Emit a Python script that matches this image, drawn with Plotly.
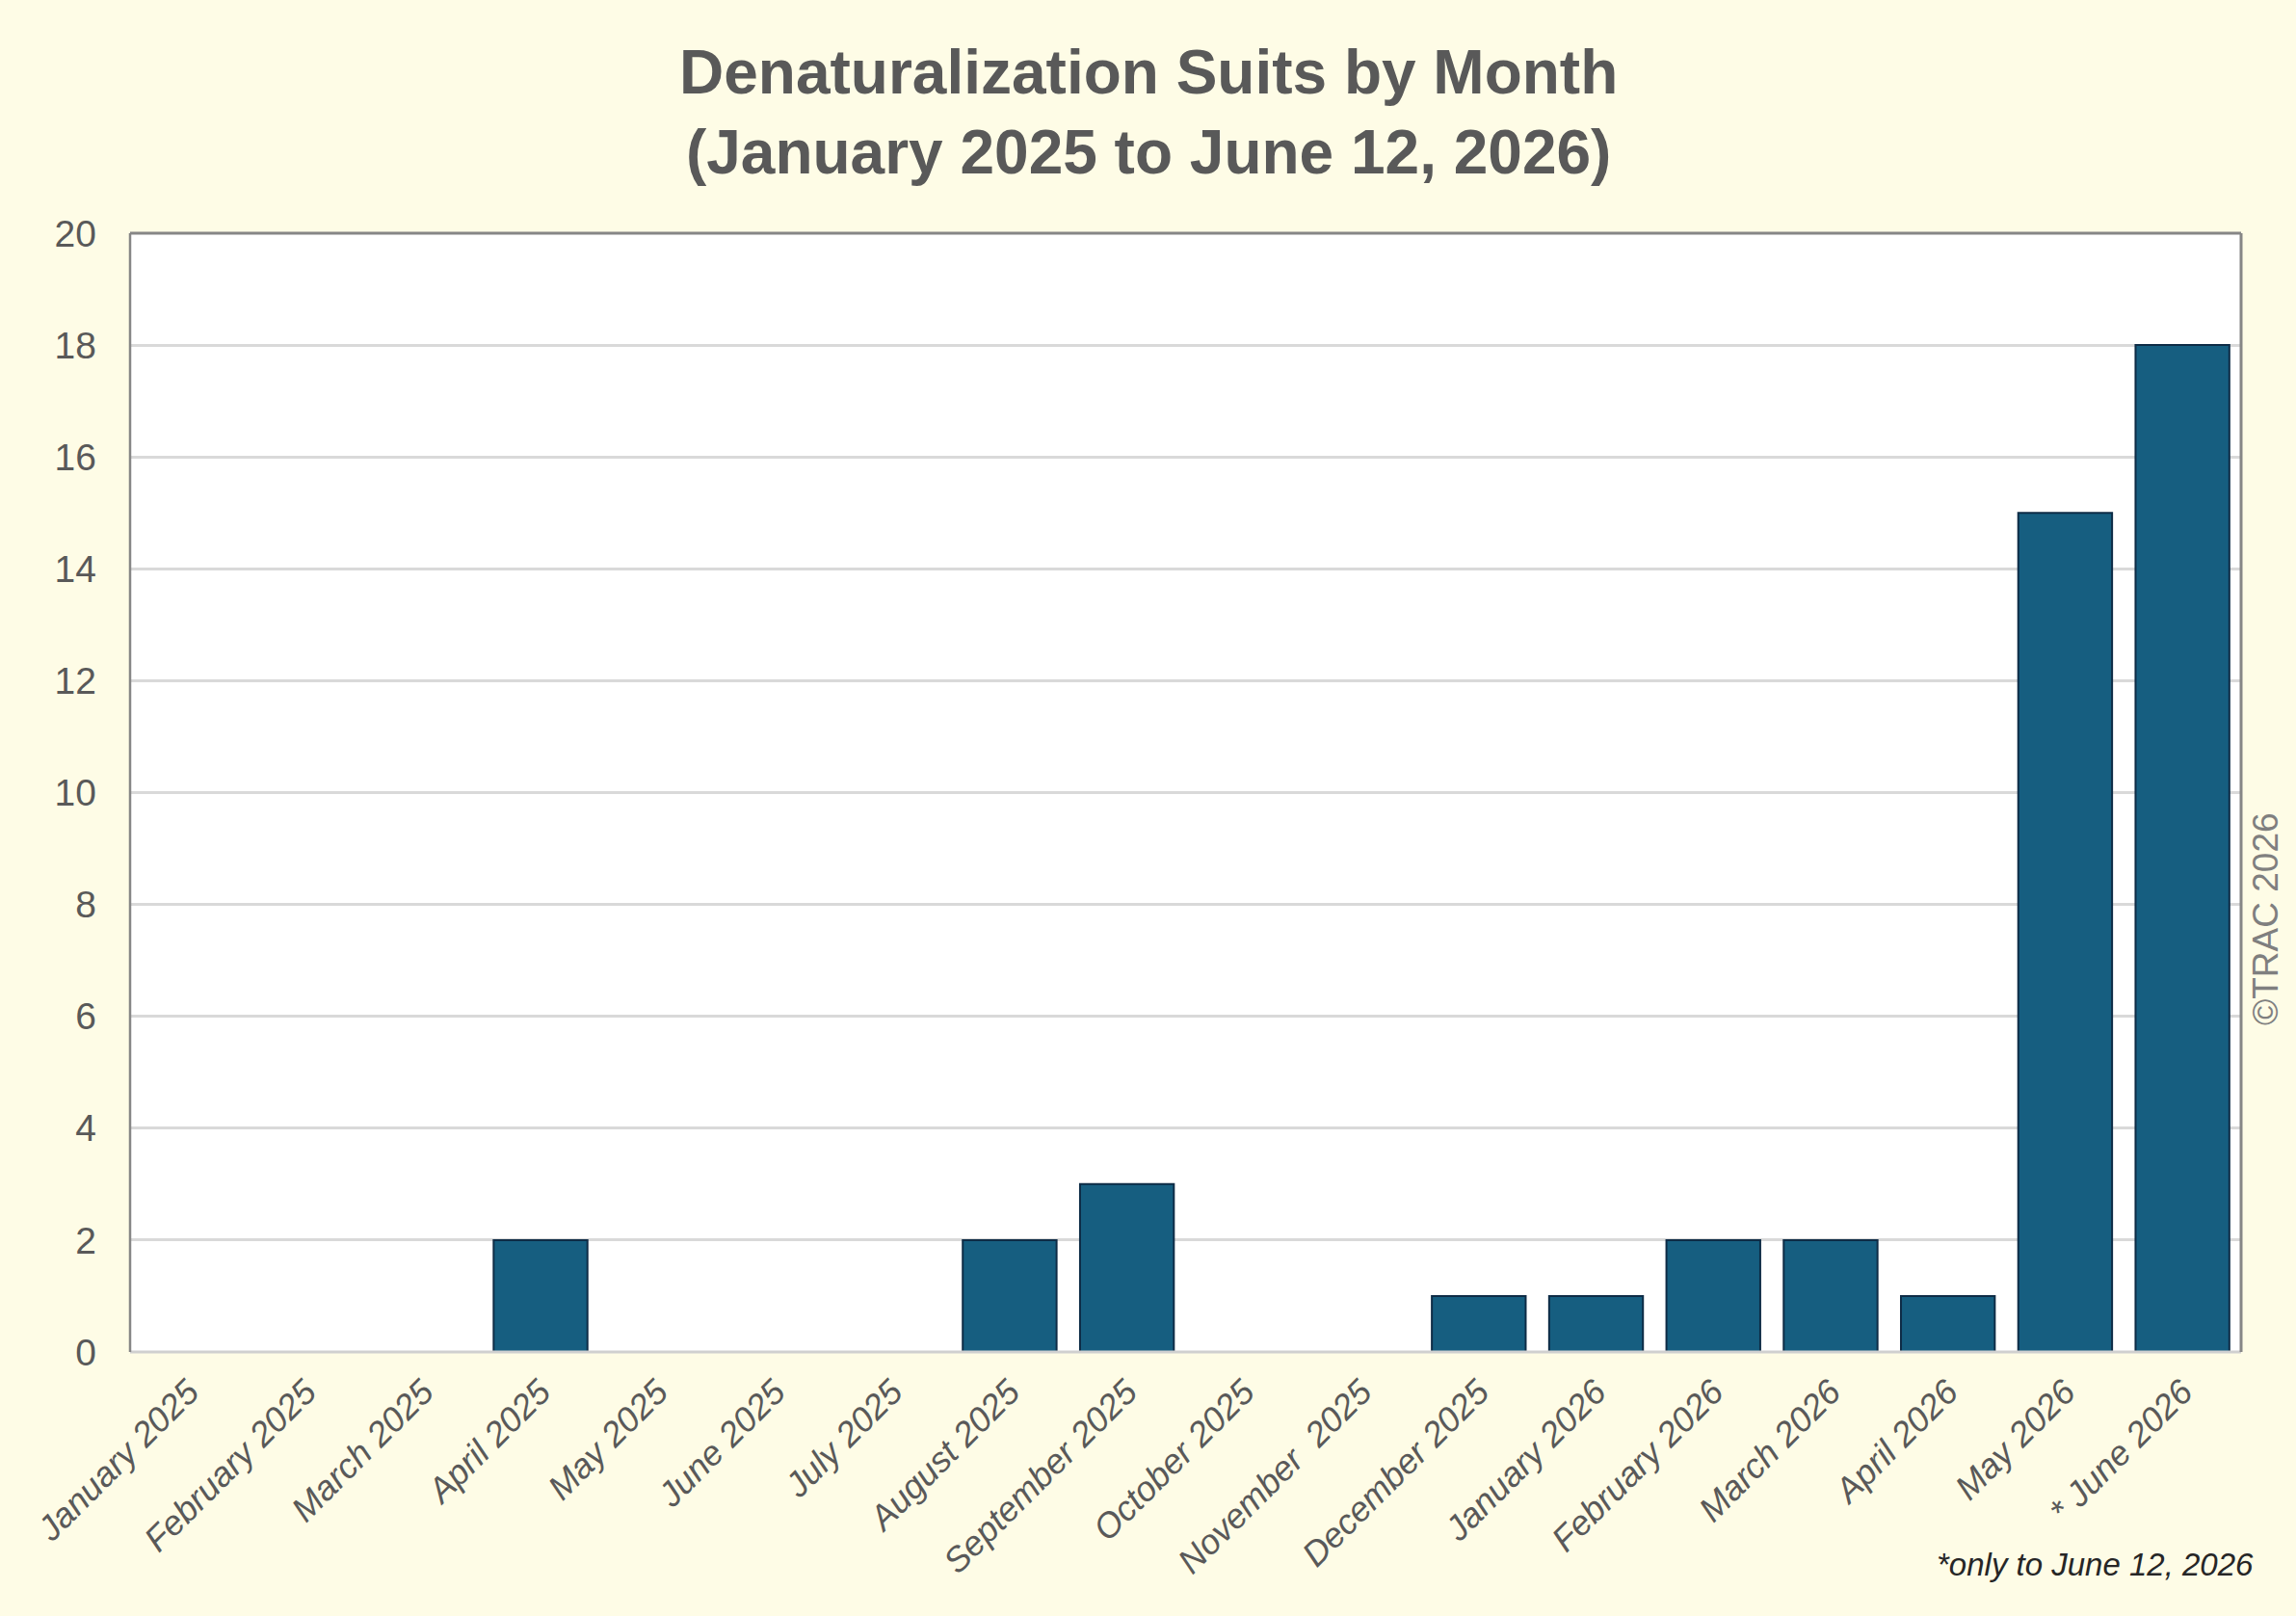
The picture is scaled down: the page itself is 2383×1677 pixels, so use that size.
import plotly.graph_objects as go

months = ["January 2025", "February 2025", "March 2025", "April 2025", "May 2025",
          "June 2025", "July 2025", "August 2025", "September 2025", "October 2025",
          "November \u00a02025", "December 2025", "January 2026", "February 2026",
          "March 2026", "April 2026", "May 2026", "* June 2026"]
suits = [0, 0, 0, 2, 0, 0, 0, 2, 3, 0, 0, 1, 1, 2, 2, 1, 15, 18]
y_ticks = [0, 2, 4, 6, 8, 10, 12, 14, 16, 18, 20]

title_text = "Denaturalization Suits by Month<br>(January 2025 to June 12, 2026)"
footnote = "*only to June 12, 2026"
watermark = "©TRAC 2026"

FONT = "Liberation Sans, Arial, sans-serif"
W, H = 2383, 1677
L, R, T, B = 135, 57, 242, 274

fig = go.Figure(go.Bar(
    x=months, y=suits,
    marker=dict(color="#165E80", line=dict(color="#0E2C46", width=2)),
))

fig.update_layout(
    width=W, height=H,
    margin=dict(l=L, r=R, t=T, b=B, pad=0),
    paper_bgcolor="#FEFCE6",
    plot_bgcolor="#FFFFFF",
    bargap=0.2,
    showlegend=False,
    font=dict(family=FONT, color="#595959"),
)

fig.update_xaxes(
    tickangle=-45,
    tickfont=dict(family=FONT, size=36, color="#595959", style="italic"),
    showline=False, showgrid=False, ticks="", ticklabelstandoff=12,
)
fig.update_yaxes(
    range=[0, 20], tickvals=y_ticks,
    tickfont=dict(family=FONT, size=39, color="#595959"),
    showgrid=True, gridcolor="#D9D9D9", gridwidth=2.5,
    zeroline=False, showline=False, ticks="", ticklabelstandoff=34,
)

# plot-area frame
fig.add_shape(type="line", xref="paper", yref="paper", x0=0, x1=1, y0=0, y1=0,
              line=dict(color="#D0D0D0", width=3))
fig.add_shape(type="line", xref="paper", yref="paper", x0=0, x1=0, y0=0, y1=1,
              line=dict(color="#868686", width=2.5))
fig.add_shape(type="line", xref="paper", yref="paper", x0=0, x1=1, y0=1, y1=1,
              line=dict(color="#868686", width=3))
fig.add_shape(type="line", xref="paper", yref="paper", x0=1, x1=1, y0=0, y1=1,
              line=dict(color="#868686", width=3))

pw = W - L - R
ph = H - T - B
fig.add_annotation(text=title_text, xref="paper", yref="paper",
                   x=(W / 2 - L) / pw, y=(H - B - 116) / ph,
                   xanchor="center", yanchor="middle", showarrow=False,
                   font=dict(family=FONT, size=64, color="#595959", weight="bold"))
fig.add_annotation(text=footnote, xref="paper", yref="paper",
                   x=(2341 - L) / pw, y=(H - B - 1623) / ph,
                   xanchor="right", yanchor="middle", showarrow=False,
                   font=dict(family=FONT, size=33, color="#262626", style="italic"))
fig.add_annotation(text=watermark, xref="paper", yref="paper",
                   x=(2352 - L) / pw, y=(H - B - 954) / ph, textangle=-90,
                   xanchor="center", yanchor="middle", showarrow=False,
                   font=dict(family=FONT, size=37, color="#7F7F7F"))

fig.write_html("out.html")
